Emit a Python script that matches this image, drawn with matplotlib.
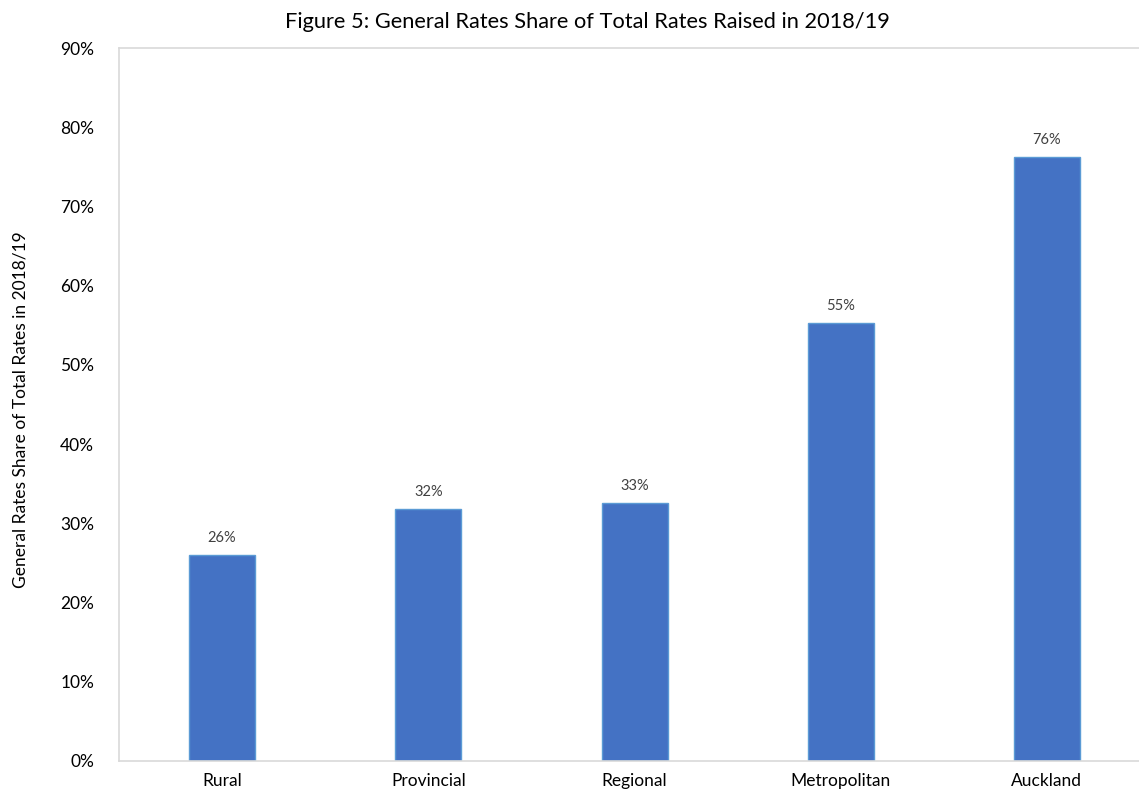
"""
plot.py
Bar chart: general rates share of total rates raised in 2018/19, by council group.
"""

import matplotlib.pyplot as plt
from matplotlib.ticker import FuncFormatter, MultipleLocator

plt.rcParams["font.family"] = ["Lato", "DejaVu Sans"]

# ── Data ──────────────────────────────────────────────────────────────────────
CATEGORIES = ["Rural", "Provincial", "Regional", "Metropolitan", "Auckland"]
SHARE_PCT = [26.0, 31.8, 32.6, 55.3, 76.3]
LABELS = ["26%", "32%", "33%", "55%", "76%"]

TITLE = "Figure 5: General Rates Share of Total Rates Raised in 2018/19"
Y_LABEL = "General Rates Share of Total Rates in 2018/19"

# ── Style ─────────────────────────────────────────────────────────────────────
BAR_COLOR = "#4472C4"
BAR_EDGE = "#5B9BD5"
SPINE_COLOR = "#D9D9D9"
TEXT_COLOR = "#000000"
LABEL_COLOR = "#404040"

fig = plt.figure(figsize=(11.39, 7.94), dpi=100)
ax = fig.add_axes([0.1045, 0.0416, 0.9052, 0.8979])

x = range(len(CATEGORIES))
bars = ax.bar(x, SHARE_PCT, width=0.32, color=BAR_COLOR,
              edgecolor=BAR_EDGE, linewidth=1.0, zorder=2)

for bar, lab in zip(bars, LABELS):
    ax.annotate(lab, (bar.get_x() + bar.get_width() / 2, bar.get_height()),
                xytext=(0, 7), textcoords="offset points",
                ha="center", va="bottom", fontsize=10.5, color=LABEL_COLOR)

ax.set_xlim(-0.5, len(CATEGORIES) - 0.5)
ax.set_ylim(0, 90)
ax.yaxis.set_major_locator(MultipleLocator(10))
ax.yaxis.set_major_formatter(FuncFormatter(lambda v, _: f"{v:.0f}%"))

ax.set_xticks(list(x))
ax.set_xticklabels(CATEGORIES)
ax.tick_params(axis="both", length=0, labelsize=12.5, colors=TEXT_COLOR)
ax.tick_params(axis="x", pad=9)
ax.tick_params(axis="y", pad=18)

for side in ["left", "top", "bottom", "right"]:
    ax.spines[side].set_color(SPINE_COLOR)
    ax.spines[side].set_linewidth(1.2)

fig.text(0.018, 0.484, Y_LABEL, rotation=90, ha="center", va="center",
         fontsize=12.5, color=TEXT_COLOR)
fig.text(0.516, 0.972, TITLE, ha="center", va="center",
         fontsize=15.7, color=TEXT_COLOR)

fig.savefig("out.png", dpi=100)
